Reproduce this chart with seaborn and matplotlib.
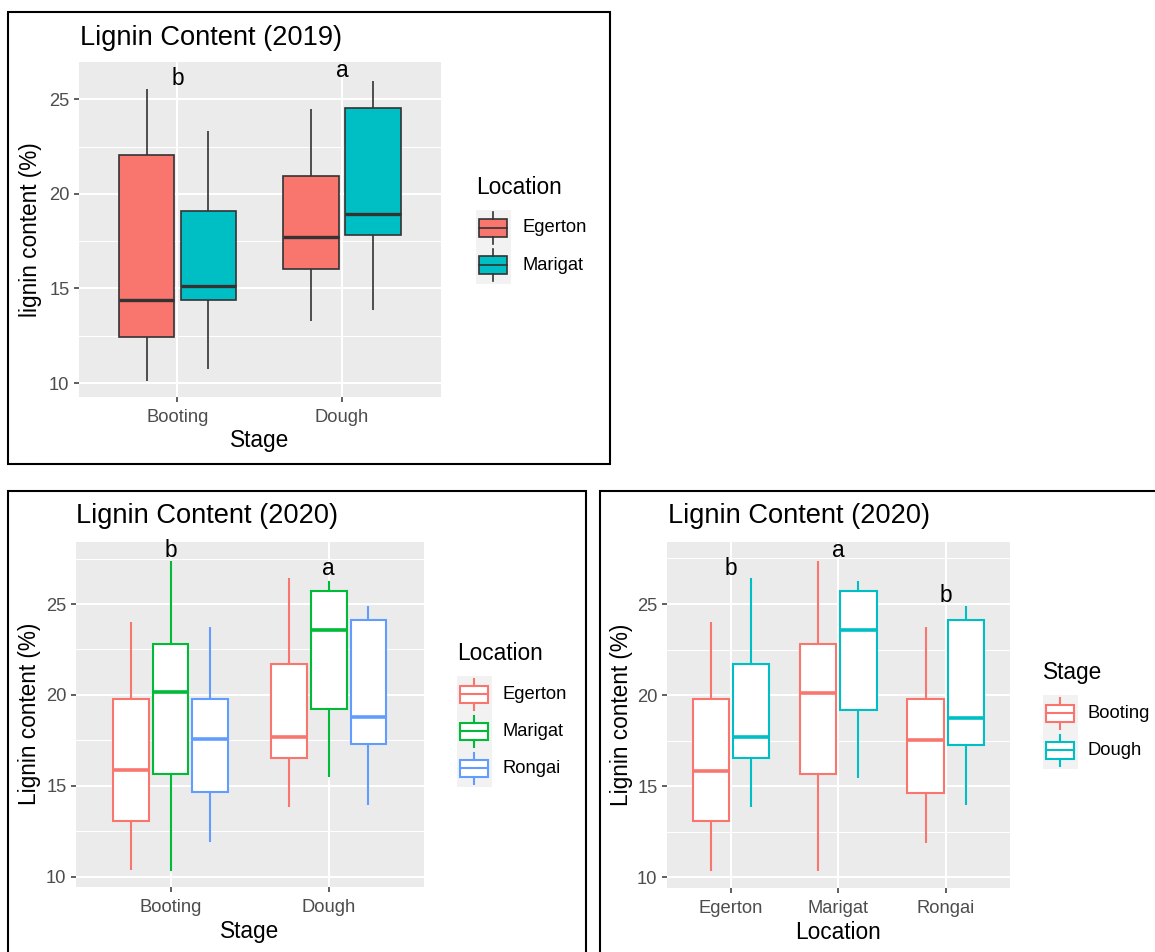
import numpy as np
import pandas as pd
import matplotlib
matplotlib.use("Agg")
import matplotlib.pyplot as plt
import seaborn as sns
from matplotlib.patches import Rectangle

# ---------------------------------------------------------------- data
stages = ["Booting", "Dough"]
locs_2019 = ["Egerton", "Marigat"]
locs_2020 = ["Egerton", "Marigat", "Rongai"]

# five-number summaries per group: min, Q1, median, Q3, max (lignin %)
lig19_egerton_booting = [10.09, 12.41, 14.39, 22.06, 25.56]
lig19_marigat_booting = [10.72, 14.37, 15.11, 19.09, 23.31]
lig19_egerton_dough = [13.26, 16.01, 17.70, 20.96, 24.51]
lig19_marigat_dough = [13.84, 17.81, 18.92, 24.53, 25.97]

lig20_egerton_booting = [10.37, 13.08, 15.85, 19.77, 24.03]
lig20_marigat_booting = [10.33, 15.67, 20.14, 22.78, 27.37]
lig20_rongai_booting = [11.89, 14.64, 17.55, 19.77, 23.75]
lig20_egerton_dough = [13.85, 16.55, 17.70, 21.70, 26.41]
lig20_marigat_dough = [15.46, 19.21, 23.57, 25.72, 26.27]
lig20_rongai_dough = [13.96, 17.28, 18.76, 24.14, 24.87]

letters_19 = ["b", "a"]
letters_20_stage = ["b", "a"]
letters_20_loc = ["b", "a", "b"]


def long_frame(groups):
    rows = []
    for (stage, loc), vals in groups.items():
        for v in vals:
            rows.append({"Stage": stage, "Location": loc, "lignin": v})
    return pd.DataFrame(rows)


df19 = long_frame({
    ("Booting", "Egerton"): lig19_egerton_booting,
    ("Booting", "Marigat"): lig19_marigat_booting,
    ("Dough", "Egerton"): lig19_egerton_dough,
    ("Dough", "Marigat"): lig19_marigat_dough,
})
df20 = long_frame({
    ("Booting", "Egerton"): lig20_egerton_booting,
    ("Booting", "Marigat"): lig20_marigat_booting,
    ("Booting", "Rongai"): lig20_rongai_booting,
    ("Dough", "Egerton"): lig20_egerton_dough,
    ("Dough", "Marigat"): lig20_marigat_dough,
    ("Dough", "Rongai"): lig20_rongai_dough,
})

# ---------------------------------------------------------------- style
plt.rcParams["font.family"] = ["Liberation Sans", "DejaVu Sans"]

W, H = 1155, 952
fig = plt.figure(figsize=(W / 100, H / 100), dpi=100)
fig.patch.set_facecolor("white")

PAL2 = ["#F8766D", "#00BFC4"]
PAL3 = ["#F8766D", "#00BA38", "#619CFF"]
TITLE_FS, AXT_FS, TICK_FS, LET_FS = 19.6, 16.3, 13.2, 16.3


def add_ax(x0, y0, x1, y1):
    return fig.add_axes([x0 / W, 1 - y1 / H, (x1 - x0) / W, (y1 - y0) / H])


def ftext(x, y, s, **kw):
    fig.text(x / W, 1 - y / H, s, **kw)


def style_axes(ax, cats, ylim):
    n = len(cats)
    ax.set_facecolor("#EBEBEB")
    ax.set_xticks(range(n), labels=cats)
    ax.set_yticks([10, 15, 20, 25])
    ax.set_yticks([12.5, 17.5, 22.5, 27.5], minor=True)
    ax.set_xlim(-0.6, n - 1 + 0.6)
    ax.set_ylim(*ylim)
    ax.grid(which="major", color="white", linewidth=1.5)
    ax.grid(which="minor", axis="y", color="white", linewidth=0.75)
    ax.set_axisbelow(True)
    for s in ax.spines.values():
        s.set_visible(False)
    ax.tick_params(which="major", length=3.7, width=1.1, color="#333333",
                   labelcolor="#4D4D4D", labelsize=TICK_FS)
    ax.tick_params(axis="x", which="major", pad=5)
    ax.tick_params(axis="y", which="major", pad=3)
    ax.tick_params(which="minor", length=0)
    ax.set_xlabel("")
    ax.set_ylabel("")


def outline_boxes(ax, df, x, hue, order, hue_order, colors):
    # white-filled boxes outlined in each group's colour
    for level, col in zip(hue_order, colors):
        sub = df[df[hue] == level]
        sns.boxplot(data=sub, x=x, y="lignin", hue=hue, order=order,
                    hue_order=hue_order, dodge=True,
                    palette={h: "white" for h in hue_order},
                    linecolor=col, saturation=1, width=0.75, gap=0.1,
                    whis=(0, 100), showcaps=False, linewidth=1.5,
                    medianprops=dict(linewidth=2.6), legend=False, ax=ax)


def draw_legend(title, labels, colors, filled, key_x, key_top, title_y,
                label_x, key_w=35, key_h=37):
    n = len(labels)
    ftext(key_x, title_y, title, fontsize=AXT_FS, ha="left", va="center")
    lax = add_ax(key_x, key_top, key_x + key_w, key_top + key_h * n)
    lax.set_xlim(0, 1)
    lax.set_ylim(n, 0)
    lax.axis("off")
    lax.add_patch(Rectangle((0, 0), 1, n, facecolor="#F2F2F2",
                            edgecolor="none"))
    lw = 1.2 if filled else 1.5
    for i, (lab, col) in enumerate(zip(labels, colors)):
        edge = "#333333" if filled else col
        face = col if filled else "white"
        lax.add_patch(Rectangle((0.1, i + 0.27), 0.8, 0.46, facecolor=face,
                                edgecolor=edge, linewidth=lw))
        lax.plot([0.5, 0.5], [i + 0.08, i + 0.27], color=edge, lw=lw)
        lax.plot([0.5, 0.5], [i + 0.73, i + 0.92], color=edge, lw=lw)
        lax.plot([0.1, 0.9], [i + 0.5, i + 0.5], color=edge, lw=lw)
        ftext(label_x, key_top + key_h * (i + 0.5), lab, fontsize=TICK_FS,
              ha="left", va="center")


def border(x0, y0, x1, y1):
    fig.add_artist(Rectangle((x0 / W, 1 - y1 / H), (x1 - x0) / W,
                             (y1 - y0) / H, transform=fig.transFigure,
                             fill=False, edgecolor="black", linewidth=1.5))


# ---------------------------------------------------------------- 2019
ax1 = add_ax(78.7, 62, 440.7, 397)
sns.boxplot(data=df19, x="Stage", y="lignin", hue="Location", order=stages,
            hue_order=locs_2019, palette=PAL2, saturation=1, width=0.75,
            gap=0.1, whis=(0, 100), showcaps=False, linewidth=1.2,
            linecolor="#333333", medianprops=dict(linewidth=2.4),
            legend=False, ax=ax1)
style_axes(ax1, stages, (9.26, 26.97))
for i, (lt, yv) in enumerate(zip(letters_19, [25.78, 26.16])):
    ax1.text(i, yv, lt, ha="center", va="baseline", fontsize=LET_FS)
ftext(79.7, 44.7, "Lignin Content (2019)", fontsize=TITLE_FS, va="baseline")
ftext(259.7, 440, "Stage", fontsize=AXT_FS, ha="center", va="center")
ftext(30.7, 229.5, "lignin content (%)", fontsize=AXT_FS, ha="center",
      va="center", rotation=90)
draw_legend("Location", locs_2019, PAL2, True, 475.7, 209.5, 188, 522.7)
border(7.5, 12, 610, 464)

# ---------------------------------------------------------------- 2020 by stage
ax2 = add_ax(75.7, 541.7, 423.7, 886.7)
outline_boxes(ax2, df20, "Stage", "Location", stages, locs_2020, PAL3)
style_axes(ax2, stages, (9.45, 28.43))
for i, (lt, yv) in enumerate(zip(letters_20_stage, [27.60, 26.60])):
    ax2.text(i, yv, lt, ha="center", va="baseline", fontsize=LET_FS)
ftext(76.3, 523.3, "Lignin Content (2020)", fontsize=TITLE_FS, va="baseline")
ftext(249.7, 931.7, "Stage", fontsize=AXT_FS, ha="center", va="center")
ftext(29.7, 714.2, "Lignin content (%)", fontsize=AXT_FS, ha="center",
      va="center", rotation=90)
draw_legend("Location", locs_2020, PAL3, False, 456.7, 675.8, 654, 502.7)
border(7.5, 490.5, 586.5, 960)

# ---------------------------------------------------------------- 2020 by location
ax3 = add_ax(666.7, 541.7, 1010, 887.7)
outline_boxes(ax3, df20, "Location", "Stage", locs_2020, stages, PAL2)
style_axes(ax3, locs_2020, (9.43, 28.42))
for i, (lt, yv) in enumerate(zip(letters_20_loc, [26.59, 27.60, 25.09])):
    ax3.text(i, yv, lt, ha="center", va="baseline", fontsize=LET_FS)
ftext(667.7, 523.3, "Lignin Content (2020)", fontsize=TITLE_FS, va="baseline")
ftext(838.3, 932.7, "Location", fontsize=AXT_FS, ha="center", va="center")
ftext(621.7, 714.7, "Lignin content (%)", fontsize=AXT_FS, ha="center",
      va="center", rotation=90)
draw_legend("Stage", stages, PAL2, False, 1042.7, 694.8, 672.7, 1087.3)
border(600, 490.5, 1165, 960)

fig.savefig("out.png", dpi=100, facecolor="white")
